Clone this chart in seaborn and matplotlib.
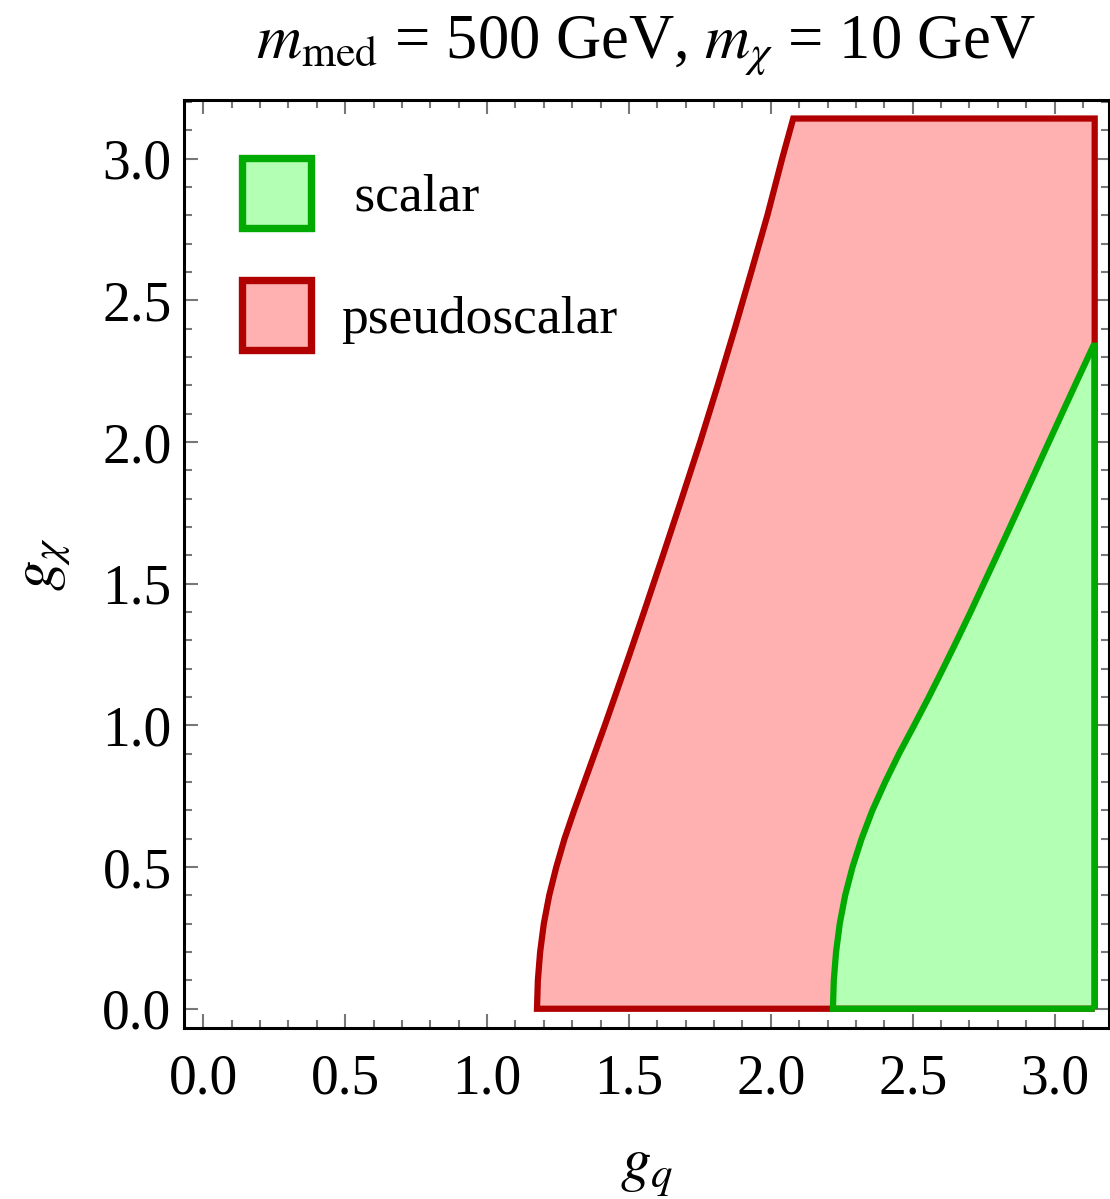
import numpy as np
import pandas as pd
import matplotlib
matplotlib.use("Agg")
import matplotlib.pyplot as plt
import seaborn as sns
from matplotlib.patches import Patch
from matplotlib.ticker import MultipleLocator, FormatStrFormatter

# boundary of the pseudoscalar region (left edge, g_q read at each g_chi)
ps_gchi = [0.0, 0.1, 0.2, 0.3, 0.4, 0.5, 0.6, 0.7, 0.8, 0.9, 1.0, 1.1, 1.25,
           1.4, 1.6, 1.8, 2.0, 2.2, 2.4, 2.6, 2.8, 3.0, 3.1416]
ps_gq = [1.176, 1.179, 1.187, 1.200, 1.219, 1.244, 1.273, 1.307, 1.343, 1.379,
         1.415, 1.450, 1.502, 1.553, 1.620, 1.686, 1.751, 1.813, 1.873, 1.931,
         1.988, 2.040, 2.079]

# boundary of the scalar region
sc_gchi = [0.0, 0.1, 0.2, 0.3, 0.4, 0.5, 0.6, 0.7, 0.8, 0.9, 1.0, 1.1, 1.2,
           1.3, 1.4, 1.6, 1.7, 1.8, 2.0, 2.2, 2.34]
sc_gq = [2.219, 2.222, 2.230, 2.243, 2.262, 2.288, 2.320, 2.358, 2.403, 2.452,
         2.505, 2.557, 2.607, 2.656, 2.704, 2.797, 2.843, 2.889, 2.980, 3.072,
         3.137]

g_max = 3.1416
labels = [" scalar", "pseudoscalar"]

sns.set_theme(style="ticks")
plt.rcParams['font.family'] = ['Liberation Serif', 'DejaVu Serif']
plt.rcParams['mathtext.fontset'] = 'stix'
plt.rcParams['text.color'] = 'black'
plt.rcParams['axes.labelcolor'] = 'black'

fig = plt.figure(figsize=(11.1, 11.99), dpi=100)
ax = fig.add_axes([0.1658, 0.1426, 0.8333, 0.774])

red_fill, red_edge = "#ffb1b1", "#b00000"
green_fill, green_edge = "#b3ffb3", "#00aa00"


def outline(gq, gchi):
    # closed polygon: right edge -> bottom -> curve -> top -> right edge
    xs = [g_max, gq[0]] + list(gq) + [g_max, g_max]
    ys = [0.0, 0.0] + list(gchi) + [gchi[-1], 0.0]
    return pd.DataFrame({"gq": xs, "gchi": ys})


ax.fill_betweenx(ps_gchi, ps_gq, g_max, color=red_fill, lw=0)
sns.lineplot(data=outline(ps_gq, ps_gchi), x="gq", y="gchi", sort=False,
             estimator=None, color=red_edge, lw=4.5, ax=ax,
             solid_joinstyle="miter", solid_capstyle="butt")
ax.fill_betweenx(sc_gchi, sc_gq, g_max, color=green_fill, lw=0)
sns.lineplot(data=outline(sc_gq, sc_gchi), x="gq", y="gchi", sort=False,
             estimator=None, color=green_edge, lw=4.5, ax=ax,
             solid_joinstyle="miter", solid_capstyle="butt")

ax.set_xlim(-0.068, 3.192)
ax.set_ylim(-0.068, 3.207)

ax.xaxis.set_major_locator(MultipleLocator(0.5))
ax.xaxis.set_minor_locator(MultipleLocator(0.1))
ax.yaxis.set_major_locator(MultipleLocator(0.5))
ax.yaxis.set_minor_locator(MultipleLocator(0.1))
ax.xaxis.set_major_formatter(FormatStrFormatter("%.1f"))
ax.yaxis.set_major_formatter(FormatStrFormatter("%.1f"))
ax.tick_params(which="both", direction="in", top=True, right=True,
               color="#777777", labelcolor="black", labelsize=40, width=1.5)
ax.tick_params(which="major", length=10)
ax.tick_params(which="minor", length=6)
ax.tick_params(axis="x", pad=18)
ax.tick_params(axis="y", pad=9)
for sp in ax.spines.values():
    sp.set_linewidth(2.2)
    sp.set_color("black")

ax.set_xlabel(r"$g_q$", fontsize=44, labelpad=27)
ax.set_ylabel(r"$g_\chi$", fontsize=44, labelpad=22)
ax.set_title(r"$m_{\rm med}$ = 500 GeV, $m_\chi$ = 10 GeV", fontsize=45, pad=30)

handles = [Patch(facecolor=green_fill, edgecolor=green_edge, lw=5.3),
           Patch(facecolor=red_fill, edgecolor=red_edge, lw=5.3)]
ax.legend(handles, labels, loc="upper left", bbox_to_anchor=(0.063, 0.938),
          frameon=False, fontsize=38.5, handlelength=1.28, handleheight=1.65,
          handletextpad=0.56, labelspacing=0.97, borderpad=0, borderaxespad=0)

fig.savefig("out.png", dpi=100)
